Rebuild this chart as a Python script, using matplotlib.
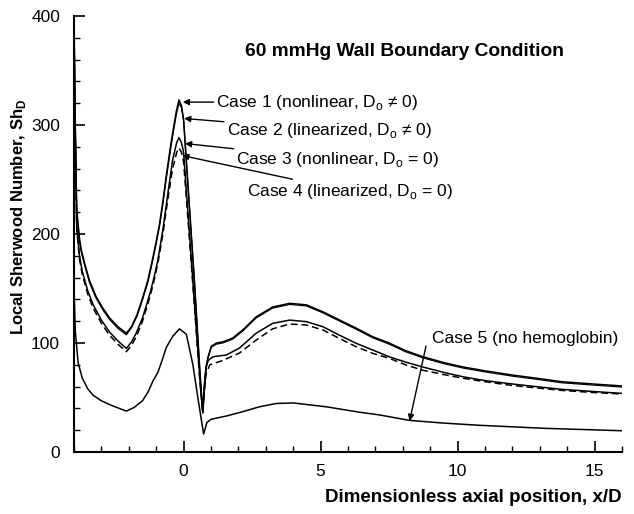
import matplotlib
matplotlib.use("Agg")
import matplotlib.pyplot as plt
from matplotlib.ticker import MultipleLocator

plt.rcParams['font.family'] = ['Liberation Sans', 'DejaVu Sans']
plt.rcParams['mathtext.fontset'] = 'custom'
plt.rcParams['mathtext.rm'] = 'Liberation Sans'
plt.rcParams['mathtext.bf'] = 'Liberation Sans:bold'

# ---- data ----
x_case1 = [-4.0, -3.97, -3.93, -3.9, -3.8, -3.74, -3.6, -3.43, -3.2, -2.95, -2.7, -2.4, -2.09,
           -1.9, -1.7, -1.5, -1.3, -1.15, -1.0, -0.88, -0.76, -0.63, -0.45, -0.27, -0.17, -0.08,
           0.0, 0.2, 0.4, 0.6, 0.7, 0.75, 0.82, 0.89, 1.01, 1.2, 1.43, 1.79, 2.16, 2.65, 3.25,
           3.87, 4.48, 5.08, 5.7, 6.3, 6.9, 7.5, 8.1, 8.73, 9.5, 10.2, 11.0, 12.0, 13.0, 13.8,
           15.0, 16.0]
y_case1 = [398, 330, 262, 222, 196, 186, 172, 157, 143, 132, 123, 115, 109,
           115, 126, 141, 158, 175, 193, 209, 229, 254, 285, 312, 323, 318,
           305, 230, 155, 72, 36, 55, 78, 87, 97, 100, 101, 104.5, 112, 124, 133,
           136.4, 135, 128.7, 121, 113.6, 105.8, 100, 93, 87.4, 82, 78, 74.5, 70.6, 67.3, 64.5,
           62.3, 60.6]

x_case2 = x_case1
y_case2 = [397, 328, 260, 220, 194, 184, 170, 155, 141.5, 130.5, 121.5, 113.5, 107.5,
           114, 124.5, 139.5, 156, 173, 191, 207, 227, 251, 282, 309, 320, 316,
           304, 229, 154, 71, 36, 54, 77, 86, 96, 99, 100, 103.5, 111, 123, 132,
           135.4, 134, 127.7, 120, 112.6, 104.8, 99, 92, 86.4, 81, 77, 73.5, 69.6, 66.3, 63.5,
           61.3, 59.6]

x_case3 = [-4.0, -3.97, -3.93, -3.9, -3.8, -3.7, -3.5, -3.3, -3.0, -2.7, -2.4, -2.09,
           -1.9, -1.73, -1.5, -1.34, -1.2, -1.08, -0.94, -0.75, -0.57, -0.4, -0.25, -0.17, -0.08,
           0.0, 0.2, 0.4, 0.6, 0.7, 0.75, 0.82, 0.9, 1.07, 1.56, 2.04, 2.65, 3.25, 3.87, 4.48,
           5.08, 5.7, 6.3, 6.9, 7.5, 8.1, 8.73, 9.5, 10.2, 11.0, 12.0, 13.0, 13.8, 15.0, 16.0]
y_case3 = [396, 322, 252, 207, 180, 166, 148, 135, 121, 110, 102, 95,
           101, 109, 123, 136, 148, 160, 176, 205, 238, 268, 284, 288.5, 284,
           275, 205, 135, 65, 36, 60, 78, 84, 87.4, 89, 95.4, 109, 118, 121, 119.6,
           115, 107, 99.7, 93.6, 87.4, 82.5, 78, 73, 69, 65.5, 62.4, 59.6, 57.5, 55.4, 53.8]

x_case4 = [-4.0, -3.97, -3.93, -3.9, -3.8, -3.7, -3.5, -3.3, -3.0, -2.7, -2.4, -2.09,
           -1.9, -1.73, -1.5, -1.34, -1.2, -1.08, -0.94, -0.75, -0.57, -0.4, -0.25, -0.17, -0.08,
           0.0, 0.2, 0.4, 0.6, 0.7, 0.75, 0.82, 0.96, 1.43, 2.04, 2.65, 3.25, 3.87, 4.48,
           5.08, 5.7, 6.3, 6.9, 7.5, 8.1, 8.73, 9.5, 10.2, 11.0, 12.0, 13.0, 13.8, 15.0, 16.0]
y_case4 = [394, 320, 249, 204, 177, 163, 145, 132, 118, 107, 99, 92,
           98, 105.5, 120, 133, 145, 157, 173, 201, 233, 260, 275, 279, 275,
           266, 200, 132, 63, 36, 55, 72, 80, 84, 90.8, 102.7, 113, 117.4, 116.5,
           112, 104, 96.6, 90.5, 86, 80, 75, 71, 67.6, 64.5, 61, 58.5, 56.5, 54.5, 53.2]

x_case5 = [-4.0, -3.95, -3.85, -3.7, -3.5, -3.3, -3.0, -2.7, -2.4, -2.09, -1.8, -1.5, -1.3,
           -1.12, -0.94, -0.8, -0.63, -0.4, -0.15, 0.1, 0.34, 0.55, 0.73, 0.85, 1.0, 1.56,
           2.16, 2.77, 3.38, 4.0, 5.2, 6.42, 7.15, 8.25, 9.5, 10.8, 13.2, 16.0]
y_case5 = [150, 110, 82, 68, 58, 52, 47, 43.5, 40.5, 37.5, 41, 47, 55,
           65, 73, 83, 96, 106, 113, 108, 80, 45, 16.5, 27, 30, 33,
           37, 41.5, 44.5, 45, 41.5, 36.5, 34, 29, 26.5, 24.5, 21.7, 19.5]

case_labels = ["Case 1 (nonlinear, D$_\\mathregular{o}$ \u2260 0)",
               "Case 2 (linearized, D$_\\mathregular{o}$ \u2260 0)",
               "Case 3 (nonlinear, D$_\\mathregular{o}$ = 0)",
               "Case 4 (linearized, D$_\\mathregular{o}$ = 0)",
               "Case 5 (no hemoglobin)"]
title_text = "60 mmHg Wall Boundary Condition"
xlabel_text = "Dimensionless axial position, x/D"
ylabel_text = "Local Sherwood Number, Sh$_\\mathbf{D}$"

# ---- figure ----
fig = plt.figure(figsize=(6.34, 5.14), dpi=100)
ax = fig.add_axes([74/634, 1-452/514, (622-74)/634, (452-16)/514])

lw = 1.1
ax.plot(x_case1, y_case1, color='k', lw=lw)
ax.plot(x_case2, y_case2, color='k', lw=lw*0.8)
ax.plot(x_case3, y_case3, color='k', lw=lw)
ax.plot(x_case4, y_case4, color='k', lw=lw, linestyle=(0, (4.5, 2.5)))
ax.plot(x_case5, y_case5, color='k', lw=lw)

ax.set_xlim(-4, 16)
ax.set_ylim(0, 400)
ax.spines['top'].set_visible(False)
ax.spines['right'].set_visible(False)
ax.spines['left'].set_linewidth(1.5)
ax.spines['bottom'].set_linewidth(1.5)

ax.xaxis.set_major_locator(MultipleLocator(5))
ax.xaxis.set_minor_locator(MultipleLocator(1))
ax.yaxis.set_major_locator(MultipleLocator(100))
ax.yaxis.set_minor_locator(MultipleLocator(20))
ax.tick_params(which='major', direction='in', length=8, width=1.2, labelsize=12.5, pad=9)
ax.tick_params(which='minor', direction='in', length=4, width=1.0)
ax.tick_params(axis='y', which='major', pad=10)

ax.set_xlabel(xlabel_text, fontsize=13.5, fontweight='bold')
ax.xaxis.set_label_coords(1.0, -0.085)
ax.xaxis.label.set_horizontalalignment('right')
ax.set_ylabel(ylabel_text, fontsize=12, fontweight='bold')
ax.yaxis.set_label_coords(-0.084, 0.54)

ax.text(245/634, 1-52/514, title_text, transform=fig.transFigure,
        fontsize=13.8, fontweight='bold', va='center', ha='left')

arrow = dict(arrowstyle='-|>', color='k', lw=1.0, mutation_scale=9, shrinkA=0, shrinkB=0)
# (text anchor in data coords, arrow tip in data coords)
ann = [((1.2, 321), (-0.03, 321)),
       ((1.57, 295), (0.02, 306)),
       ((1.93, 268), (0.05, 283)),
       ((2.3, 239), (-0.05, 272))]
for lab, (txy, tip) in zip(case_labels[:4], ann):
    ax.annotate(lab, xy=tip, xytext=txy, fontsize=12.5, va='center', ha='left',
                arrowprops=arrow)
ax.annotate(case_labels[4], xy=(8.25, 28.5), xytext=(9.05, 104), fontsize=12.5,
            va='center', ha='left',
            arrowprops=dict(arrowstyle='-|>', color='k', lw=1.0, mutation_scale=9,
                            shrinkA=0, shrinkB=0, relpos=(-0.03, 0.0)))

fig.savefig("out.png", dpi=100)
